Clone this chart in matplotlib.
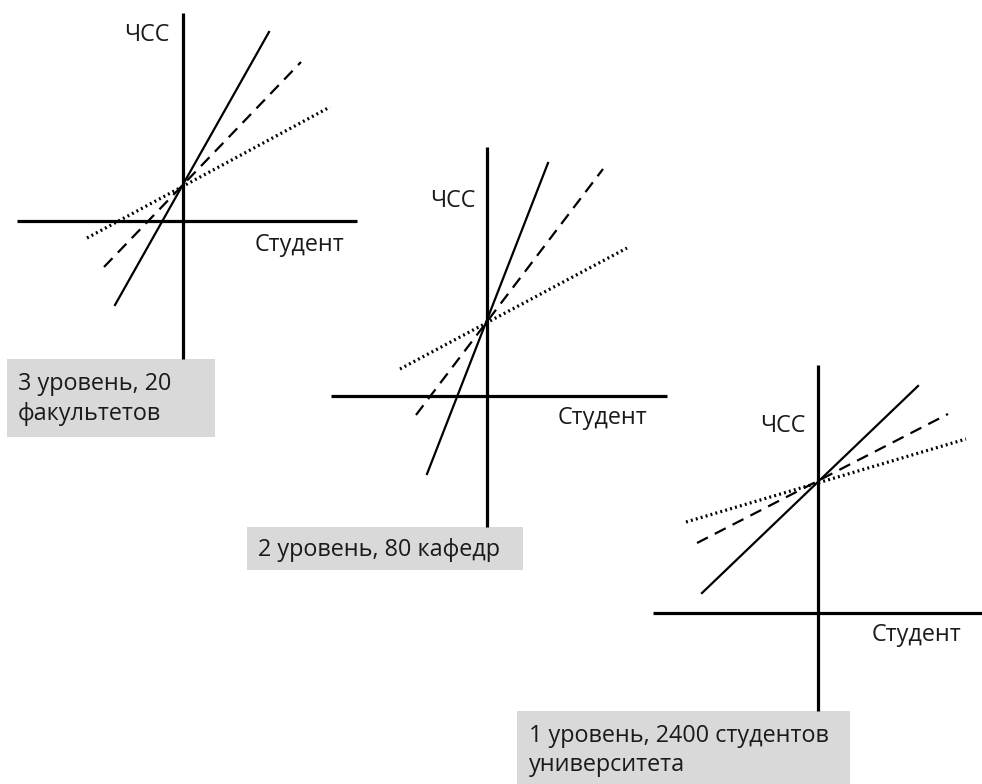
import matplotlib
matplotlib.use("Agg")
import matplotlib.pyplot as plt
from matplotlib.patches import Rectangle

plt.rcParams['font.family'] = ['Open Sans', 'DejaVu Sans']

W, H = 982, 784

# Panel geometry (pixel-space diagram coordinates)
axis_labels_y = ["ЧСС", "ЧСС", "ЧСС"]
axis_labels_x = ["Студент", "Студент", "Студент"]
box_texts = ["3 уровень, 20\nфакультетов", "2 уровень, 80 кафедр",
             "1 уровень, 2400 студентов\nуниверситета"]

# vertical axes: x, y_top, y_bottom
v_axis_x = [183, 487, 818]
v_axis_top = [13, 147, 365]
v_axis_bottom = [359, 527, 711]
# horizontal axes: y, x_left, x_right
h_axis_y = [221, 396, 613]
h_axis_left = [17, 331, 653]
h_axis_right = [357, 667, 982]

# lines: (x0, y0, x1, y1)
solid_lines = [(115, 305, 269, 32), (427, 474, 548, 163), (702, 593, 918, 386)]
dashed_lines = [(104, 267, 301, 62), (416, 415, 603, 169), (697, 543, 948, 414)]
dotted_lines = [(87, 238, 330, 107), (400, 369, 627, 248), (686, 522, 966, 439)]

# label positions
ycap_pos = [(147, 35), (453, 201), (783, 426)]
xcap_pos = [(255, 245), (558, 418), (872, 635)]
# boxes: x, y, w, h
boxes = [(7, 359, 208, 78), (247, 527, 276, 43), (517, 711, 333, 73)]
box_pad = [11, 11, 12]
box_text_dy = [1, 1, 3]

fig = plt.figure(figsize=(W / 100, H / 100), dpi=100)
ax = fig.add_axes([0, 0, 1, 1])
ax.set_xlim(0, W)
ax.set_ylim(H, 0)
ax.axis('off')

fs = 16.8
tc = '#1a1a1a'
for i in range(3):
    ax.plot([v_axis_x[i], v_axis_x[i]], [v_axis_top[i], v_axis_bottom[i]],
            color='black', lw=2.3, solid_capstyle='butt')
    ax.plot([h_axis_left[i], h_axis_right[i]], [h_axis_y[i], h_axis_y[i]],
            color='black', lw=2.3, solid_capstyle='butt')
    x0, y0, x1, y1 = solid_lines[i]
    ax.plot([x0, x1], [y0, y1], color='black', lw=1.6)
    x0, y0, x1, y1 = dashed_lines[i]
    ax.plot([x0, x1], [y0, y1], color='black', lw=1.6, linestyle=(0, (5.5, 3.5)))
    x0, y0, x1, y1 = dotted_lines[i]
    ax.plot([x0, x1], [y0, y1], color='black', lw=2.3, linestyle=(0, (0.6, 1.0)),
            dash_capstyle='butt')
    ax.text(ycap_pos[i][0], ycap_pos[i][1], axis_labels_y[i], ha='center', va='center',
            fontsize=fs, color=tc)
    ax.text(xcap_pos[i][0], xcap_pos[i][1], axis_labels_x[i], ha='left', va='center',
            fontsize=fs, color=tc)
    bx, by, bw, bh = boxes[i]
    ax.add_patch(Rectangle((bx, by), bw, bh, facecolor='#d9d9d9', edgecolor='none',
                           zorder=0))
    ax.text(bx + box_pad[i], by + bh / 2 + box_text_dy[i], box_texts[i], ha='left',
            va='center', fontsize=fs, color=tc, linespacing=1.3)

fig.savefig('out.png', dpi=100)
